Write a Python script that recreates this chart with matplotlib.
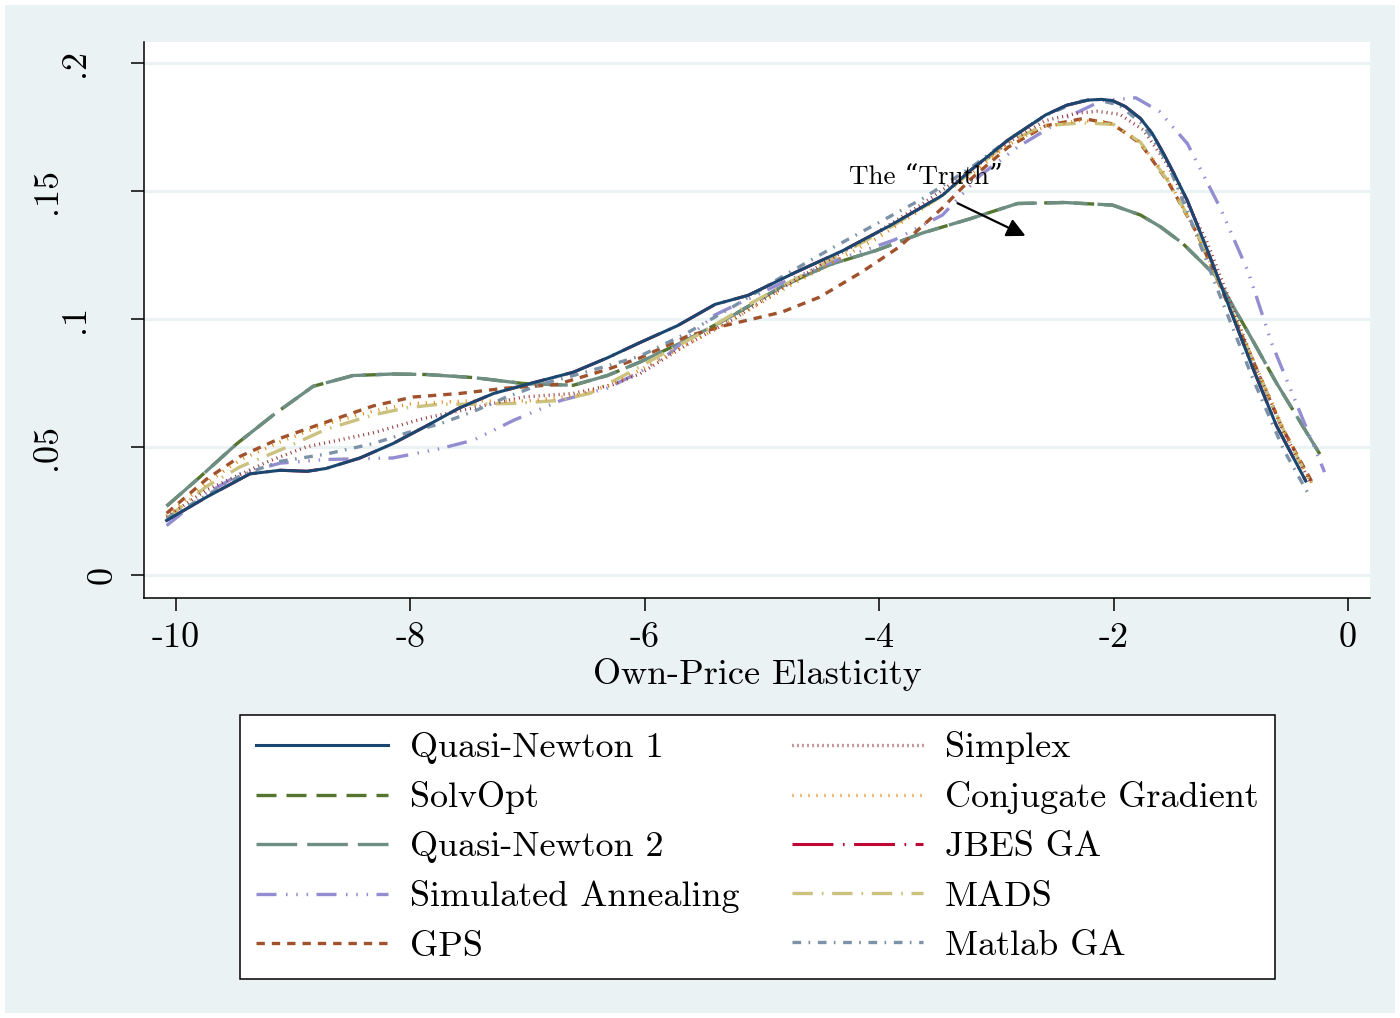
import matplotlib
matplotlib.use("Agg")
import matplotlib.pyplot as plt
from matplotlib.patches import Rectangle

plt.rcParams['font.family'] = ['cmr10', 'DejaVu Serif']
plt.rcParams['axes.formatter.use_mathtext'] = True

# ---- data ----
qn1_x = [-10.08, -9.74, -9.37, -9.11, -8.88, -8.72, -8.43, -8.15, -7.86, -7.58, -7.29, -7.01,
         -6.61, -6.32, -6.04, -5.72, -5.40, -5.12, -4.71, -4.31, -3.91, -3.46, -3.22, -2.90,
         -2.58, -2.40, -2.22, -2.10, -2.01, -1.90, -1.77, -1.67, -1.57, -1.47, -1.37, -1.21,
         -1.01, -0.81, -0.61, -0.36]
qn1_y = [.0213, .0304, .0395, .0409, .0405, .0416, .0457, .0513, .0583, .0653, .0709, .0744,
         .0792, .0848, .0908, .0974, .1057, .1092, .1183, .1267, .1364, .1483, .1581, .1699,
         .1797, .1835, .1855, .1858, .1853, .1830, .1783, .1725, .1643, .1555, .1462, .1281,
         .1043, .0806, .0583, .0367]

qn2_x = [-10.08, -9.80, -9.48, -9.17, -8.83, -8.49, -8.15, -7.86, -7.46, -7.04, -6.61, -6.32,
         -6.04, -5.64, -5.24, -4.83, -4.43, -4.03, -3.63, -3.22, -2.82, -2.42, -2.01, -1.77,
         -1.60, -1.41, -1.13, -0.85, -0.61, -0.24]
qn2_y = [.0269, .0381, .0513, .0625, .0737, .0779, .0785, .0783, .0771, .0748, .0741, .0779,
         .0832, .0918, .1016, .1127, .1211, .1267, .1336, .1392, .1451, .1455, .1445, .1406,
         .1360, .1295, .1169, .0946, .0750, .0472]

solvopt_x = qn2_x
solvopt_y = qn2_y

sa_x = [-10.08, -9.74, -9.45, -9.11, -8.72, -8.15, -7.75, -7.46, -7.12, -6.72, -6.32, -6.04,
        -5.80, -5.40, -4.83, -4.35, -3.87, -3.46, -3.14, -2.82, -2.42, -2.10, -1.81, -1.61,
        -1.37, -1.09, -0.85, -0.65, -0.40, -0.20]
sa_y = [.0193, .0318, .0395, .0437, .0451, .0457, .0493, .0527, .0604, .0681, .0730, .0793,
        .0862, .1016, .1141, .1232, .1309, .1406, .1560, .1671, .1783, .1853, .1864, .1811,
        .1685, .1434, .1183, .0904, .0625, .0402]

gps_x = [-10.08, -9.74, -9.45, -9.11, -8.72, -8.32, -7.98, -7.58, -7.18, -6.75, -6.32, -6.04,
         -5.64, -5.32, -4.83, -4.51, -4.15, -3.83, -3.46, -3.22, -2.90, -2.58, -2.26, -2.01,
         -1.77, -1.53, -1.29, -1.05, -0.81, -0.57, -0.30]
gps_y = [.0241, .0374, .0464, .0534, .0597, .0660, .0695, .0709, .0730, .0744, .0803, .0848,
         .0932, .0974, .1027, .1085, .1183, .1281, .1434, .1546, .1671, .1755, .1783, .1762,
         .1685, .1532, .1336, .1085, .0837, .0583, .0357]

simplex_x = [-10.08, -9.74, -9.21, -8.89, -8.32, -7.89, -7.46, -7.04, -6.61, -6.27, -6.04, -5.64,
             -5.24, -4.83, -4.43, -4.03, -3.63, -3.22, -2.90, -2.58, -2.30, -2.14, -1.95, -1.75,
             -1.55, -1.21, -0.81, -0.55, -0.32]
simplex_y = [.0227, .0332, .0444, .0500, .0555, .0611, .0653, .0695, .0709, .0744, .0786, .0900,
             .1000, .1120, .1230, .1335, .1450, .1580, .1690, .1775, .1805, .1811, .1800, .1740,
             .1610, .1309, .0837, .0560, .0362]

cg_x = [-10.08, -9.74, -9.45, -9.11, -8.72, -8.32, -7.98, -7.50, -7.00, -6.60, -6.30, -6.00,
        -5.60, -5.20, -4.80, -4.40, -4.00, -3.60, -3.20, -2.90, -2.60, -2.30, -2.05, -1.80,
        -1.55, -1.30, -1.05, -0.80, -0.55, -0.30]
cg_y = [.0230, .0360, .0450, .0520, .0590, .0640, .0670, .0680, .0680, .0700, .0740, .0810,
        .0910, .1010, .1120, .1220, .1320, .1440, .1570, .1680, .1750, .1775, .1770, .1700,
        .1560, .1340, .1090, .0830, .0570, .0350]

jbes_x = qn1_x
jbes_y = qn1_y

mads_x = [-10.08, -9.74, -9.45, -9.05, -8.72, -8.32, -8.03, -7.75, -7.46, -7.12, -6.75, -6.47,
          -6.18, -5.90, -5.50, -5.10, -4.70, -4.30, -3.90, -3.50, -3.20, -2.90, -2.60, -2.26,
          -2.00, -1.77, -1.53, -1.29, -1.05, -0.81, -0.57, -0.32]
mads_y = [.0220, .0346, .0423, .0500, .0569, .0625, .0653, .0667, .0667, .0670, .0681, .0709,
          .0779, .0850, .0950, .1060, .1160, .1260, .1360, .1470, .1580, .1690, .1755, .1766,
          .1760, .1690, .1535, .1340, .1090, .0840, .0585, .0360]

mga_x = [-10.08, -9.74, -9.45, -9.11, -8.72, -8.32, -8.03, -7.75, -7.46, -7.18, -6.89, -6.61,
         -6.32, -6.04, -5.64, -5.24, -4.83, -4.43, -4.03, -3.63, -3.22, -2.90, -2.58, -2.30,
         -2.15, -1.95, -1.75, -1.55, -1.37, -1.10, -0.81, -0.55, -0.34]
mga_y = [.0220, .0311, .0388, .0444, .0472, .0513, .0555, .0590, .0639, .0695, .0744, .0779,
         .0817, .0855, .0945, .1050, .1165, .1270, .1370, .1470, .1590, .1700, .1795, .1850,
         .1858, .1835, .1760, .1620, .1420, .1100, .0765, .0490, .0318]

x_ticks = [-10, -8, -6, -4, -2, 0]
x_ticklabels = ["-10", "-8", "-6", "-4", "-2", "0"]
y_ticks = [0, 0.05, 0.1, 0.15, 0.2]
y_ticklabels = ["0", ".05", ".1", ".15", ".2"]

# ---- figure ----
W, H = 1400, 1018
fig = plt.figure(figsize=(W / 100, H / 100), dpi=100, facecolor="white")
fig.patches.append(Rectangle((5 / W, 5 / H), 1390 / W, 1008 / H, transform=fig.transFigure,
                             facecolor="#EAF2F3", edgecolor="none", zorder=-10))

ax = fig.add_axes([144 / W, 1 - 598 / H, 1226 / W, 556 / H])
ax.set_facecolor("white")
for s in ["top", "right"]:
    ax.spines[s].set_visible(False)
for s in ["left", "bottom"]:
    ax.spines[s].set_linewidth(1.1)

fs = 26
lw = 2.4
# (label, x, y, colour, width, dash pattern, zorder) -- stata s2color pens
series = [
    ("Quasi-Newton 1", qn1_x, qn1_y, "#1A476F", 2.2, "-", 9),
    ("SolvOpt", solvopt_x, solvopt_y, "#55752F", lw, (0, (6, 3)), 3),
    ("Quasi-Newton 2", qn2_x, qn2_y, "#6E8E84", lw, (0, (12.2, 3)), 4),
    ("Simulated Annealing", sa_x, sa_y, "#938DD2", lw,
     (0, (6, 2.85, 0.45, 2.64, 0.45, 2.64, 0.45, 2.52)), 5),
    ("GPS", gps_x, gps_y, "#A0522D", lw, (0, (2.5, 2.1)), 6),
    ("Simplex", simplex_x, simplex_y, "#90353B", lw, (0, (0.3, 1.2)), 7),
    ("Conjugate Gradient", cg_x, cg_y, "#E37E00", lw, (0, (0.3, 2.1)), 7),
    ("JBES GA", jbes_x, jbes_y, "#C10534", 2.2, (0, (13.4, 3.1, 0.55, 3.1)), 2),
    ("MADS", mads_x, mads_y, "#CAC27E", lw, (0, (6.1, 2.7, 0.5, 2.6)), 6),
    ("Matlab GA", mga_x, mga_y, "#7B92A8", lw, (0, (2.6, 2.2, 0.5, 2.3)), 8),
]
for label, xs, ys, color, w, ls, z in series:
    ax.plot(xs, ys, color=color, lw=w, linestyle=ls, label=label, zorder=z)

ax.set_xlim(-10.273, 0.188)
ax.set_ylim(-0.009, 0.2082)
ax.set_xticks(x_ticks)
ax.set_xticklabels(x_ticklabels, fontsize=fs)
ax.set_yticks(y_ticks)
ax.set_yticklabels([])
ax.tick_params(axis="both", direction="out", length=9.5, width=1.1, color="black")
ax.tick_params(axis="x", pad=8)
ax.yaxis.grid(True, color="#EAF2F3", lw=2.2, zorder=0)
ax.set_axisbelow(True)

# rotated y labels, staggered like the original
for yv, lab in zip(y_ticks, y_ticklabels):
    px = 130 - 27.5 * len(lab)
    ax.text((px - 144) / 1226, yv, lab, transform=ax.get_yaxis_transform(),
            rotation=90, ha="center", va="center", fontsize=fs, clip_on=False)

ax.set_xlabel("Own-Price Elasticity", fontsize=fs, labelpad=3)

ax.text(-3.60, 0.1555, "The \u201cTruth\u201d", fontsize=19.5, ha="center", va="center", zorder=12)
ax.annotate("", xy=(-2.73, 0.132), xytext=(-3.353, 0.1457),
            arrowprops=dict(arrowstyle="-|>", mutation_scale=28, lw=1.6, color="black"),
            zorder=12)

leg = fig.legend(loc="upper left", bbox_to_anchor=(240 / W, 1 - 715 / H), ncol=2,
                 fontsize=fs, frameon=True, fancybox=False, edgecolor="black",
                 framealpha=1, borderaxespad=0, handlelength=3.65, handletextpad=0.6,
                 columnspacing=1.45, labelspacing=0.47, borderpad=0.45)
leg.get_frame().set_linewidth(1.1)

fig.savefig("out.png", dpi=100, facecolor="white")
